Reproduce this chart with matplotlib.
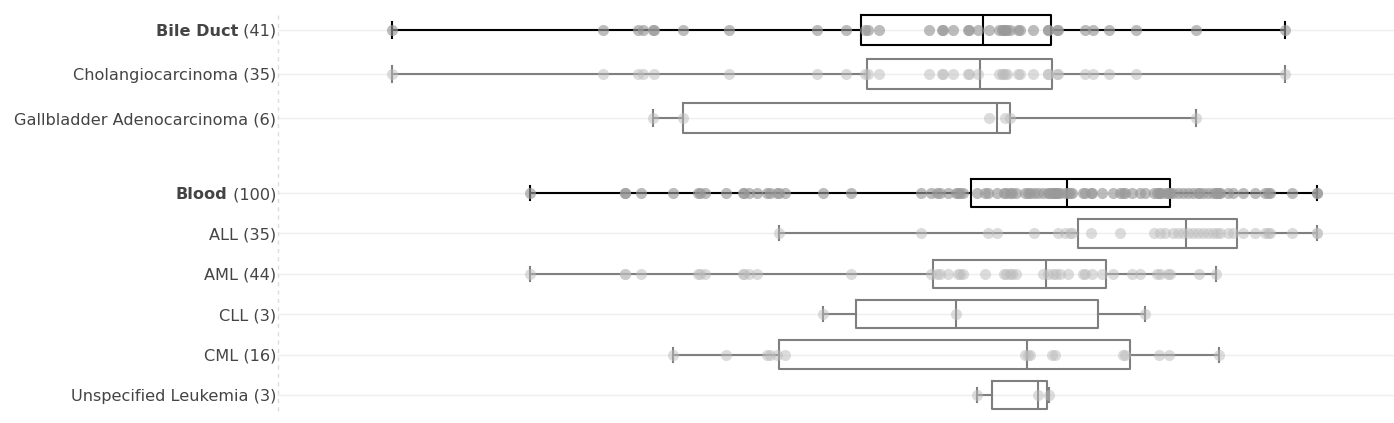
import matplotlib.pyplot as plt
from matplotlib import transforms
from matplotlib.lines import Line2D

# values on the (unlabelled) horizontal scale
cholangio = [392, 603, 638, 643, 654, 729, 817, 846, 865, 868, 879, 929, 942, 943,
             953, 968, 969, 978, 999, 1002, 1003, 1005, 1007, 1018, 1020, 1033, 1048,
             1048, 1057, 1058, 1085, 1093, 1109, 1136, 1285]
gallbladder = [653, 683, 989, 1005, 1010, 1196]

all_leuk = [779, 921, 988, 997, 1034, 1058, 1065, 1070, 1072, 1091, 1120, 1154, 1160,
            1165, 1173, 1178, 1183, 1188, 1193, 1198, 1203, 1208, 1213, 1217, 1220,
            1228, 1233, 1243, 1255, 1265, 1268, 1270, 1292, 1317, 1317]
aml = [530, 625, 625, 641, 698, 700, 705, 743, 744, 749, 757, 851, 931, 937, 940, 948,
       958, 960, 963, 985, 1004, 1006, 1010, 1012, 1016, 1043, 1048, 1053, 1056, 1060,
       1068, 1083, 1085, 1092, 1102, 1113, 1132, 1140, 1157, 1160, 1168, 1170, 1199, 1216]
cll = [823, 956, 1145]
cml = [673, 726, 767, 770, 777, 785, 1025, 1028, 1030, 1052, 1055, 1123, 1125, 1159,
       1169, 1219]
unspec = [977, 1038, 1049]

top_names = ["Bile Duct", "Cholangiocarcinoma", "Gallbladder Adenocarcinoma"]
top_counts = [41, 35, 6]
# (whislo, q1, med, q3, whishi)
top_stats = [(392, 861, 983, 1051, 1285),
             (392, 867, 980, 1052, 1285),
             (653, 683, 997, 1010, 1196)]

bot_names = ["Blood", "ALL", "AML", "CLL", "CML", "Unspecified Leukemia"]
bot_counts = [100, 35, 44, 3, 16, 3]
bot_stats = [(530, 971, 1067, 1170, 1317),
             (779, 1078, 1186, 1237, 1317),
             (530, 933, 1046, 1106, 1216),
             (823, 856, 956, 1098, 1145),
             (673, 779, 1027, 1130, 1219),
             (977, 992, 1038, 1047, 1049)]

W, H = 1394, 423
LEFT = 278
FS = 11.6
fig = plt.figure(figsize=(W / 100, H / 100), dpi=100)
renderer = fig.canvas.get_renderer()


def draw_group(top_px, bottom_px, names, counts, stats, subgroups):
    ax = fig.add_axes([LEFT / W, 1 - bottom_px / H, (W - LEFT) / W, (bottom_px - top_px) / H])
    n = len(names)
    points = [sum(subgroups, [])] + subgroups
    for i in range(n):
        lo, q1, med, q3, hi = stats[i]
        parent = i == 0
        col = "black" if parent else "#7f7f7f"
        st = dict(whislo=lo, q1=q1, med=med, q3=q3, whishi=hi, fliers=[])
        lp = dict(color=col, lw=1.5)
        ax.bxp([st], positions=[i], widths=0.7, capwidths=0.35, orientation="horizontal",
               showfliers=False, manage_ticks=False, boxprops=lp, whiskerprops=lp,
               capprops=lp, medianprops=lp, zorder=2)
        ax.scatter(points[i], [i] * len(points[i]), s=64, lw=0, zorder=3,
                   color="#999999" if parent else "#bbbbbb",
                   alpha=0.65 if parent else 0.5)

        trans = transforms.offset_copy(ax.get_yaxis_transform(), fig=fig, x=-2, y=-6,
                                       units="dots")
        if parent:
            t = ax.text(0, i, f" ({counts[i]})", transform=trans, ha="right",
                        va="baseline", fontsize=FS, color="#444444")
            w = t.get_window_extent(renderer).width
            trans2 = transforms.offset_copy(ax.get_yaxis_transform(), fig=fig,
                                            x=-2 - w, y=-6, units="dots")
            ax.text(0, i, names[i], transform=trans2, ha="right", va="baseline",
                    fontsize=FS, fontweight="bold", color="#444444")
        else:
            ax.text(0, i, f"{names[i]} ({counts[i]})", transform=trans, ha="right",
                    va="baseline", fontsize=FS, color="#444444")

    ax.set_xlim(LEFT, W)
    ax.set_ylim(n - 0.5, -0.5)
    ax.set_yticks(range(n))
    ax.set_yticklabels([])
    ax.set_xticks([])
    ax.tick_params(length=0)
    ax.yaxis.grid(True, color="#eeeeee", lw=1)
    ax.set_axisbelow(True)
    for s in ax.spines.values():
        s.set_visible(False)
    return ax


draw_group(8, 140, top_names, top_counts, top_stats, [cholangio, gallbladder])
draw_group(172.8, 415.2, bot_names, bot_counts, bot_stats,
           [all_leuk, aml, cll, cml, unspec])

fig.add_artist(Line2D([LEFT / W, LEFT / W], [1 - 15 / H, 1 - 415 / H],
                      color="#dddddd", lw=1, ls=(0, (3, 3))))

fig.savefig("out.png", dpi=100)
